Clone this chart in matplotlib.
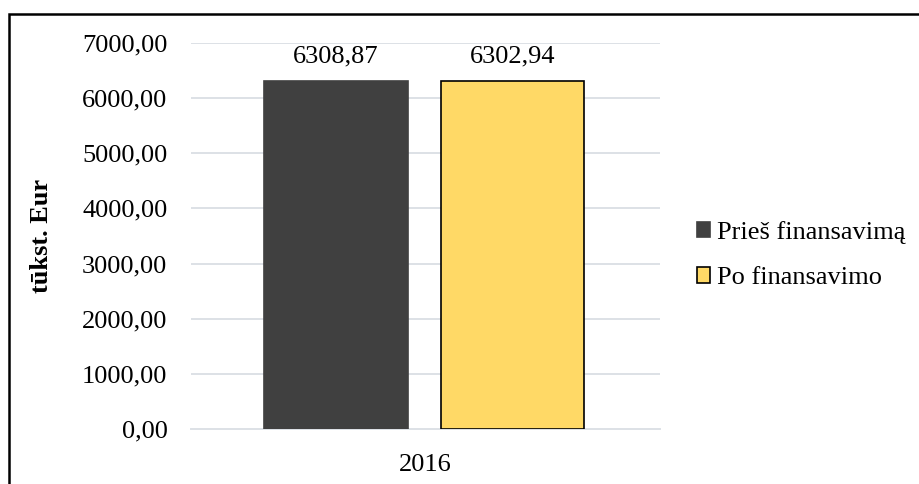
import matplotlib
matplotlib.use('Agg')
import matplotlib.pyplot as plt
from matplotlib.patches import Rectangle

# Data
categories = ['2016']
series_names = ['Prieš finansavimą', 'Po finansavimo']
values = [6308.87, 6302.94]
colors = ['#404040', '#FFD966']
edges = ['#404040', 'black']
yticks = [0, 1000, 2000, 3000, 4000, 5000, 6000, 7000]

plt.rcParams['font.family'] = ['Liberation Serif', 'DejaVu Serif']
FS = 19

fig = plt.figure(figsize=(9.2, 4.84), dpi=100)
ax = fig.add_axes([0.2076, 0.1136, 0.5098, 0.7975])

# outer frame (clipped at right and bottom like the screenshot)
fig.patches.append(Rectangle((9.5 / 920, -0.05), 1.2, 1 - 13.5 / 484 + 0.05,
                             transform=fig.transFigure, fill=False,
                             edgecolor='black', linewidth=1.8))

width = 0.307
offsets = [-0.1915, 0.1855]
for i, name in enumerate(series_names):
    ax.bar(offsets[i], values[i], width=width, color=colors[i],
           edgecolor=edges[i], linewidth=1.2, label=name, zorder=3)
    ax.text(offsets[i], values[i] + 250, f'{values[i]:.2f}'.replace('.', ','),
            ha='center', va='bottom', fontsize=FS)

ax.set_xlim(-0.5, 0.5)
ax.set_ylim(0, 7000)
ax.set_yticks(yticks)
ax.set_yticklabels([f'{v:.2f}'.replace('.', ',') for v in yticks], fontsize=FS)
ax.set_xticks([0])
ax.set_xticklabels(categories, fontsize=FS)
ax.tick_params(length=0)
ax.tick_params(axis='y', pad=17)
ax.tick_params(axis='x', pad=18)
ax.grid(axis='y', color='#DDE1E6', linewidth=1.4, zorder=0)
for s in ['top', 'right', 'left']:
    ax.spines[s].set_visible(False)
ax.spines['bottom'].set_color('#DDE1E6')
ax.spines['bottom'].set_linewidth(1.4)

ax.set_ylabel('tūkst. Eur', fontsize=FS, fontweight='bold', labelpad=21)

fig.legend(loc='center left', bbox_to_anchor=(697 / 920, 1 - 255 / 484),
           bbox_transform=fig.transFigure, frameon=False, borderpad=0,
           borderaxespad=0, fontsize=FS, handlelength=0.5, handleheight=0.5,
           handletextpad=0.25, labelspacing=0.9)

fig.savefig('out.png', dpi=100)
